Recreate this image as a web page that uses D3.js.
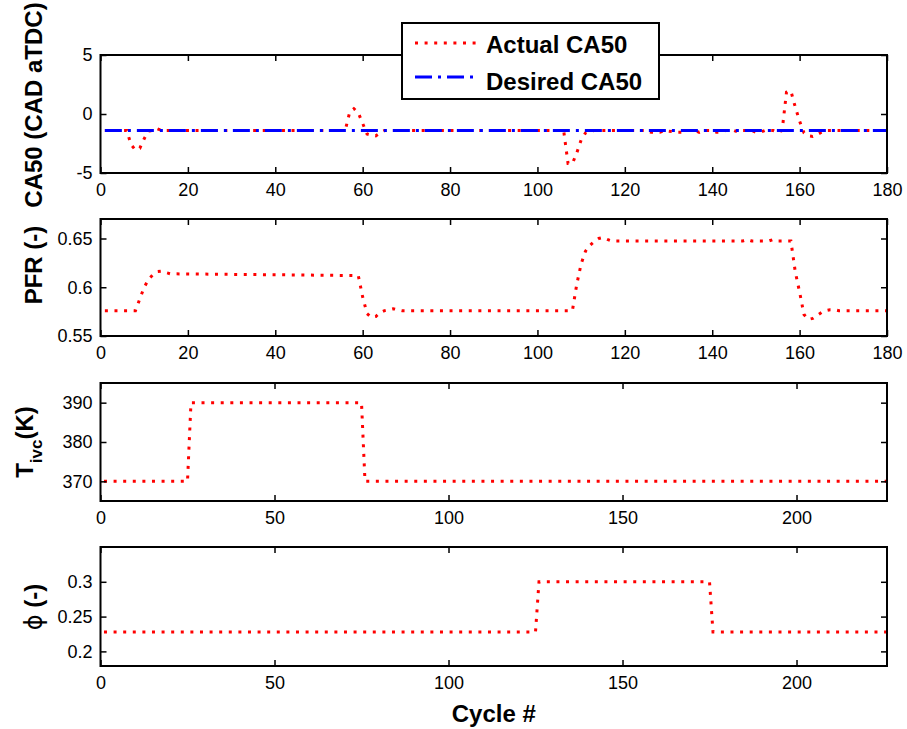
<!DOCTYPE html>
<html><head><meta charset="utf-8">
<script src="https://cdn.jsdelivr.net/npm/d3@7"></script>
<style>body{margin:0;background:#fff} text{font-family:"Liberation Sans",Arial,Helvetica,sans-serif}</style>
</head><body><svg id="c" width="907" height="729"></svg>
<script>
// ---------- data ----------
const caCycles = [1,6,7,8,9,10,11,12,13,14,56,57,58,59,60,61,62,63,64,65,106,107,108,109,110,111,112,113,
  125,126,128,129,132,133,134,136,137,138,140,141,142,143,145,146,147,149,150,151,152,154,155,156,157,158,159,160,161,162,163,164,165,166,180];
const caActual = [-1.4,-1.4,-2.6,-3.05,-2.9,-2.1,-1.45,-1.4,-1.25,-1.4,-1.4,0.1,0.45,0.1,-0.8,-1.7,-1.8,-1.85,-1.6,-1.4,-1.4,-4.2,-4.2,-3.3,-2.2,-1.6,-1.45,-1.4,
  -1.4,-1.55,-1.55,-1.4,-1.55,-1.55,-1.4,-1.4,-1.55,-1.4,-1.4,-1.55,-1.55,-1.4,-1.4,-1.55,-1.4,-1.4,-1.55,-1.55,-1.4,-1.4,-1.55,-1.4,1.85,1.95,0.6,-0.6,-1.6,-1.85,-1.9,-1.75,-1.55,-1.4,-1.4];
const caDesiredCycles = [1,180];
const caDesired = [-1.4,-1.4];

const pfrCycles = [1,8,9,10,11,12,13,14,15,16,59,60,61,62,63,64,65,66,67,68,69,108,109,110,111,112,113,114,115,116,117,147,148,149,153,154,155,158,159,160,161,162,163,164,165,166,167,168,169,180];
const pfrValues = [0.576,0.576,0.588,0.600,0.608,0.613,0.616,0.6165,0.615,0.6138,0.612,0.590,0.573,0.569,0.570,0.574,0.576,0.577,0.578,0.577,0.576,0.576,0.603,0.624,0.637,0.643,0.647,0.650,0.651,0.649,0.6475,0.6475,0.649,0.6475,0.6475,0.649,0.6475,0.6475,0.616,0.595,0.572,0.567,0.568,0.571,0.574,0.576,0.577,0.577,0.576,0.576];

const tivcCycles = [1,25,26,75,76,226];
const tivcValues = [370,370,390,390,370,370];

const phiCycles = [1,125,126,175,176,226];
const phiValues = [0.228,0.228,0.3,0.3,0.228,0.228];

const xTicksShort = [0,20,40,60,80,100,120,140,160,180];
const xTicksLong = [0,50,100,150,200];
const caTicks = [-5,0,5];
const pfrTicks = [0.55,0.6,0.65];
const tivcTicks = [370,380,390];
const phiTicks = [0.2,0.25,0.3];

const legendLabels = ["Actual CA50","Desired CA50"];

// ---------- drawing ----------
const svg = d3.select("#c");
svg.append("rect").attr("width",907).attr("height",729).attr("fill","#fff");
const L = 100.5, R = 887;
const RED = {color:"#ff0000", dash:"3,6.6"};
const BLUE = {color:"#0000ff", dash:"17,6,3,6"};

function panel(p){
  const x = d3.scaleLinear().domain([0,p.xMax]).range([L,R]);
  const y = d3.scaleLinear().domain(p.yDom).range([p.bottom,p.top]);
  const g = svg.append("g");
  const line = d3.line().x(d=>x(d[0])).y(d=>y(d[1]));
  p.series.forEach(s=>{
    g.append("path").datum(d3.zip(s.x,s.y)).attr("d",line)
      .attr("fill","none").attr("stroke",s.st.color).attr("stroke-width",3)
      .attr("stroke-dasharray",s.st.dash);
  });
  const fmt = d=>String(d);
  const style = sel=>{
    sel.attr("font-size",18).attr("font-family",'"Liberation Sans",Arial,sans-serif');
    sel.selectAll(".tick line").attr("stroke","#000").attr("stroke-width",1.5);
    sel.selectAll(".domain").remove();
    sel.selectAll("text").attr("fill","#000");
  };
  g.append("g").attr("transform",`translate(0,${p.bottom})`)
    .call(d3.axisBottom(x).tickValues(p.xTicks).tickSizeInner(-6).tickSizeOuter(0).tickPadding(10).tickFormat(fmt)).call(style);
  g.append("g").attr("transform",`translate(0,${p.top})`)
    .call(d3.axisTop(x).tickValues(p.xTicks).tickSizeInner(-6).tickSizeOuter(0).tickFormat("")).call(style);
  g.append("g").attr("transform",`translate(${L},0)`)
    .call(d3.axisLeft(y).tickValues(p.yTicks).tickSizeInner(-6).tickSizeOuter(0).tickPadding(8).tickFormat(fmt)).call(style);
  g.append("g").attr("transform",`translate(${R},0)`)
    .call(d3.axisRight(y).tickValues(p.yTicks).tickSizeInner(-6).tickSizeOuter(0).tickFormat("")).call(style);
  g.append("rect").attr("x",L).attr("y",p.top).attr("width",R-L).attr("height",p.bottom-p.top)
    .attr("fill","none").attr("stroke","#000").attr("stroke-width",2);
  return {x,y};
}

panel({top:55,bottom:173,xMax:180,yDom:[-5,5],xTicks:xTicksShort,yTicks:caTicks,
  series:[{x:caCycles,y:caActual,st:RED},{x:caDesiredCycles,y:caDesired,st:BLUE}]});
panel({top:219,bottom:336,xMax:180,yDom:[0.55,0.67],xTicks:xTicksShort,yTicks:pfrTicks,
  series:[{x:pfrCycles,y:pfrValues,st:RED}]});
panel({top:383,bottom:501,xMax:226,yDom:[365,395],xTicks:xTicksLong,yTicks:tivcTicks,
  series:[{x:tivcCycles,y:tivcValues,st:RED}]});
panel({top:547,bottom:666,xMax:226,yDom:[0.179,0.35],xTicks:xTicksLong,yTicks:phiTicks,
  series:[{x:phiCycles,y:phiValues,st:RED}]});

// axis labels
function ylab(cx, cy){
  return svg.append("text").attr("transform",`translate(${cx},${cy}) rotate(-90)`)
    .attr("text-anchor","middle").attr("font-size",24).attr("font-weight","bold").attr("fill","#000");
}
ylab(42,105).text("CA50 (CAD aTDC)");
ylab(42,265).text("PFR (-)");
const t3 = ylab(33,442);
t3.append("tspan").text("T");
t3.append("tspan").attr("font-size",17).attr("dy",9).text("ivc");
t3.append("tspan").attr("dy",-9).text("(K)");
const t4 = ylab(42,607);
t4.append("tspan").attr("font-weight","normal").attr("font-family","DejaVu Sans").text("ϕ");
t4.append("tspan").text(" (-)");

svg.append("text").attr("x",(L+R)/2).attr("y",722).attr("text-anchor","middle")
  .attr("font-size",24).attr("font-weight","bold").text("Cycle #");

// legend
const lg = svg.append("g");
lg.append("rect").attr("x",402).attr("y",23).attr("width",257).attr("height",76)
  .attr("fill","#fff").attr("stroke","#000").attr("stroke-width",2);
[RED,BLUE].forEach((st,i)=>{
  const yy = [43,77][i];
  lg.append("line").attr("x1",415).attr("x2",477).attr("y1",yy).attr("y2",yy)
    .attr("stroke",st.color).attr("stroke-width",3).attr("stroke-dasharray",st.dash);
  lg.append("text").attr("x",486).attr("y",[52.5,89.5][i]).attr("font-size",24)
    .attr("font-weight","bold").text(legendLabels[i]);
});
</script></body></html>
